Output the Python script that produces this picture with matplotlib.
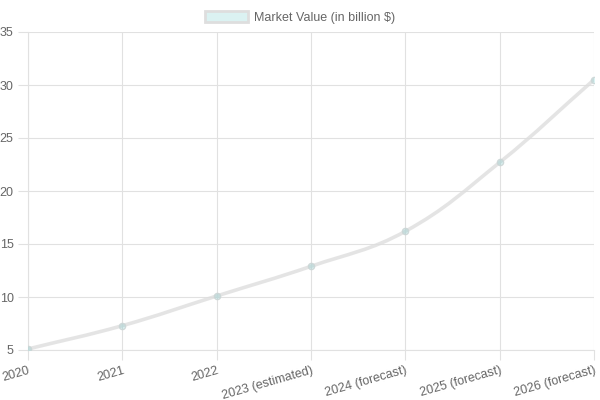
import numpy as np
import matplotlib.pyplot as plt
from matplotlib.path import Path
from matplotlib.patches import PathPatch, Patch

years = ['2020', '2021', '2022', '2023 (estimated)', '2024 (forecast)',
         '2025 (forecast)', '2026 (forecast)']
market_value = [5.1, 7.3, 10.1, 12.9, 16.2, 22.7, 30.5]

plt.rcParams['font.family'] = ['Liberation Sans', 'DejaVu Sans']
plt.rcParams['font.size'] = 9

grid_c = '#e1e1e1'
text_c = '#666666'
line_c = (0.87, 0.87, 0.87, 0.8)
fill_c = (75 / 255, 192 / 255, 192 / 255, 0.2)

fig = plt.figure(figsize=(6, 4), dpi=100)
ax = fig.add_axes([0.047, 0.125, 0.943, 0.795])
x = np.arange(len(years))
ax.set_xlim(0, len(years) - 1)
ax.set_ylim(5, 35)


def smooth_path(xs, ys, t=0.4):
    # chart.js style bezier with tension, control points worked out in pixel space
    pts = ax.transData.transform(np.column_stack([xs, ys]))
    n = len(pts)
    verts = [pts[0]]
    codes = [Path.MOVETO]
    cps = []
    for i in range(n):
        prev = pts[max(i - 1, 0)]
        nxt = pts[min(i + 1, n - 1)]
        cur = pts[i]
        d01 = np.hypot(*(cur - prev))
        d12 = np.hypot(*(nxt - cur))
        tot = d01 + d12 if d01 + d12 else 1
        fa = t * d01 / tot
        fb = t * d12 / tot
        cps.append((cur - fa * (nxt - prev), cur + fb * (nxt - prev)))
    for i in range(1, n):
        verts += [cps[i - 1][1], cps[i][0], pts[i]]
        codes += [Path.CURVE4] * 3
    inv = ax.transData.inverted()
    return Path(inv.transform(np.array(verts)), codes)


ax.add_patch(PathPatch(smooth_path(x, market_value), fill=False,
                       edgecolor=line_c, lw=2.6, capstyle='round', zorder=3))
ax.scatter(x, market_value, s=20, color=fill_c, edgecolor=(0.8, 0.84, 0.84, 0.9),
           lw=1, zorder=4)

ax.set_xticks(x)
ax.set_xticklabels(years, rotation=16, ha='right', rotation_mode='anchor')
ax.set_yticks(range(5, 36, 5))
ax.grid(True, color=grid_c, lw=0.8)
ax.set_axisbelow(True)
ax.tick_params(colors=grid_c, labelcolor=text_c, length=7, width=0.8, labelsize=9)
for s in ax.spines.values():
    s.set_visible(False)
ax.spines['left'].set_visible(True)
ax.spines['bottom'].set_visible(True)
ax.spines['left'].set_color(grid_c)
ax.spines['bottom'].set_color(grid_c)

leg = fig.legend(handles=[Patch(facecolor=fill_c, edgecolor=(0.87, 0.87, 0.87), lw=2,
                                label='Market Value (in billion \\$)')],
                 loc='upper center', bbox_to_anchor=(0.5, 1.0), frameon=False,
                 handlelength=3.4, handleheight=1.0, handletextpad=0.5,
                 fontsize=9, labelcolor=text_c)

fig.savefig('out.png', dpi=100)
